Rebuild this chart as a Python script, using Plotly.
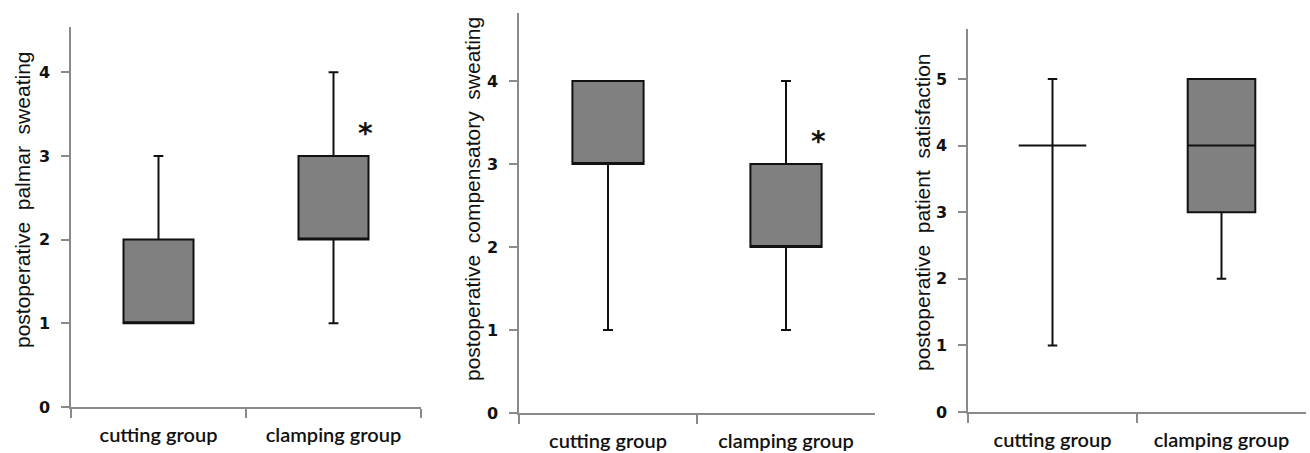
import plotly.graph_objects as go

categories = ["cutting group", "clamping group"]

# Panel 1: postoperative palmar sweating
palmar_q1 = [1, 2]
palmar_median = [1, 2]
palmar_q3 = [2, 3]
palmar_lower = [1, 1]
palmar_upper = [3, 4]

# Panel 2: postoperative compensatory sweating
comp_q1 = [3, 2]
comp_median = [3, 2]
comp_q3 = [4, 3]
comp_lower = [1, 1]
comp_upper = [4, 4]

# Panel 3: postoperative patient satisfaction
sat_q1 = [4, 3]
sat_median = [4, 4]
sat_q3 = [4, 5]
sat_lower = [1, 2]
sat_upper = [5, 5]

NB = "\u00a0\u00a0"
y_titles = ["postoperative" + NB + "palmar" + NB + "sweating",
            "postoperative" + NB + "compensatory" + NB + "sweating",
            "postoperative" + NB + "patient" + NB + "satisfaction"]
y_tops = [4.54, 4.82, 5.75]
y_ticks = [[0, 1, 2, 3, 4], [0, 1, 2, 3, 4], [0, 1, 2, 3, 4, 5]]
star_y = [3.27, 3.27, None]

W, H = 1310, 453
# pixel geometry: (left, right, bottom, top)
geo = [(71, 421, 407, 27), (519, 875, 413, 13), (968, 1306, 412, 29)]
title_x = [22, 472, 923]
title_y = [200, 199, 212]

panels = [
    (palmar_q1, palmar_median, palmar_q3, palmar_lower, palmar_upper),
    (comp_q1, comp_median, comp_q3, comp_lower, comp_upper),
    (sat_q1, sat_median, sat_q3, sat_lower, sat_upper),
]

fig = go.Figure()
axis_color = "#8a8a8a"
tick_font = dict(family="DejaVu Sans", size=16, color="#111111", weight="bold")
cat_font = dict(family="Lato", size=20, color="#111111", weight=600)

for i, (q1, med, q3, lo, up) in enumerate(panels):
    n = "" if i == 0 else str(i + 1)
    fig.add_trace(go.Box(
        x=categories, q1=q1, median=med, q3=q3,
        lowerfence=lo, upperfence=up,
        xaxis="x" + n, yaxis="y" + n,
        fillcolor="#808080", line=dict(color="#111111", width=2),
        width=0.4, whiskerwidth=0.14, boxpoints=False,
        showlegend=False, hoverinfo="skip",
    ))
    l, r, b, t = geo[i]
    fig.layout["xaxis" + n] = dict(
        domain=[l / W, r / W], anchor="y" + n, automargin=False,
        type="category", categoryorder="array", categoryarray=categories,
        range=[-0.5, 1.5], showline=True, linecolor=axis_color, linewidth=1.5,
        ticks="outside", tickson="boundaries", ticklen=9, tickcolor=axis_color,
        tickwidth=1.5, showgrid=False, zeroline=False, tickfont=cat_font,
        ticklabelstandoff=9,
    )
    fig.layout["yaxis" + n] = dict(
        domain=[1 - b / H, 1 - t / H], anchor="x" + n, automargin=False,
        range=[0, y_tops[i]], tickvals=y_ticks[i], showline=True,
        linecolor=axis_color, linewidth=1.5, ticks="outside", ticklen=8,
        tickcolor=axis_color, tickwidth=1.5, showgrid=False, zeroline=False,
        tickfont=tick_font, ticklabelstandoff=8,
    )
    fig.add_annotation(
        text=y_titles[i], textangle=-90, xref="paper", yref="paper",
        x=title_x[i] / W, y=1 - title_y[i] / H, showarrow=False,
        font=dict(family="Liberation Sans", size=21, color="#111111"),
        xanchor="center", yanchor="middle",
    )
    if star_y[i] is not None:
        fig.add_annotation(
            text="*", x=1.18, y=star_y[i], xref="x" + n, yref="y" + n,
            showarrow=False,
            font=dict(family="DejaVu Sans", size=28, color="#111111", weight="bold"),
            yanchor="middle",
        )

fig.update_layout(
    width=W, height=H, margin=dict(l=0, r=0, t=0, b=0),
    plot_bgcolor="white", paper_bgcolor="white",
)
fig.write_html("out.html", config={"displayModeBar": False},
               post_script="document.body.style.margin='0';document.body.style.padding='0';")
